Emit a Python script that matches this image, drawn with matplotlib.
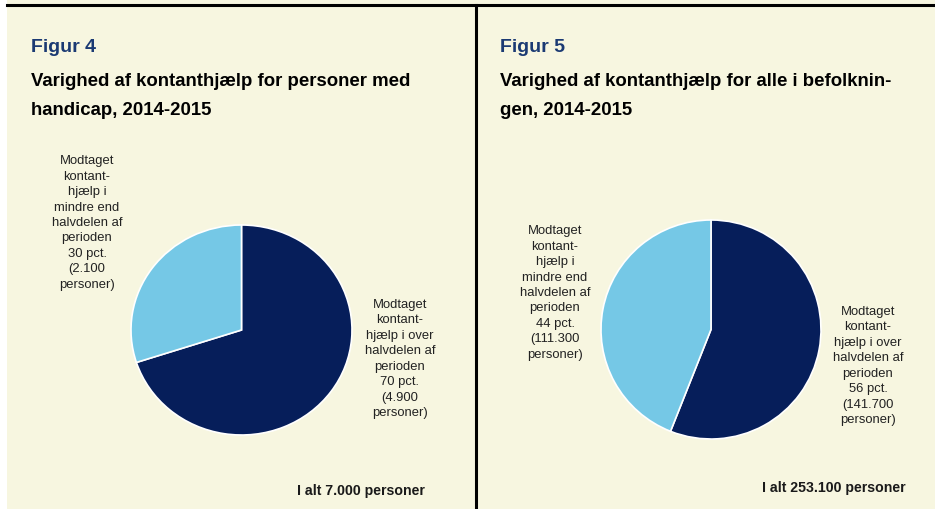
import matplotlib

matplotlib.use("Agg")
import matplotlib.pyplot as plt  # noqa: E402
from matplotlib.lines import Line2D  # noqa: E402

plt.rcParams["font.family"] = ["Liberation Sans", "DejaVu Sans"]

W, H = 935, 510
BG = "#f7f6e0"
DARK = "#061e5a"
LIGHT = "#75c8e6"
FIG_BLUE = "#1b3a73"

# data
fig_nums = ["Figur 4", "Figur 5"]
titles = [
    "Varighed af kontanthjælp for personer med\nhandicap, 2014-2015",
    "Varighed af kontanthjælp for alle i befolknin-\ngen, 2014-2015",
]
shares_over = [70, 56]       # pct. over half the period (dark)
shares_under = [30, 44]      # pct. under half the period (light)
persons_over = ["4.900", "141.700"]
persons_under = ["2.100", "111.300"]
totals = ["7.000", "253.100"]


def px(x, y):
    """pixel (from top-left) -> figure fraction"""
    return x / W, 1 - y / H


fig = plt.figure(figsize=(W / 100, H / 100), dpi=100)
fig.patch.set_facecolor(BG)

# white margin on the left + frame lines
fig.patches.append(plt.Rectangle((0, 0), 7 / W, 1, transform=fig.transFigure,
                                 facecolor="white", edgecolor="none"))
fig.add_artist(Line2D([7 / W, 1], [1 - 6 / H] * 2, color="black", lw=2.2))
fig.add_artist(Line2D([476 / W] * 2, [0, 1 - 6 / H], color="black", lw=2.2))

# pie boxes in pixels: left, top, right, bottom
panels = [
    dict(x0=31, box=(131, 226, 352, 436), lab_u=(87, 223), lab_o=(400, 359),
         tot=(425, 491)),
    dict(x0=500, box=(601, 221, 821, 440), lab_u=(555, 293), lab_o=(868, 366),
         tot=(906, 488)),
]

for i, p in enumerate(panels):
    fig.text(*px(p["x0"], 47), fig_nums[i], color=FIG_BLUE, fontsize=14,
             fontweight="bold", va="center", ha="left")
    fig.text(*px(p["x0"], 96), titles[i], color="black", fontsize=13.4,
             fontweight="bold", va="center", ha="left", linespacing=1.9)

    l, t, r, b = p["box"]
    left, bottom = px(l, b)
    ax = fig.add_axes([left, bottom, (r - l) / W, (b - t) / H])
    ax.pie([shares_over[i], shares_under[i]], colors=[DARK, LIGHT],
           startangle=90, counterclock=False,
           wedgeprops=dict(edgecolor="white", linewidth=1.2))
    ax.set_xlim(-1, 1)
    ax.set_ylim(-1, 1)
    ax.set_aspect("auto")
    ax.set_axis_off()

    under = (f"Modtaget\nkontant-\nhjælp i\nmindre end\nhalvdelen af\nperioden\n"
             f"{shares_under[i]} pct.\n({persons_under[i]}\npersoner)")
    over = (f"Modtaget\nkontant-\nhjælp i over\nhalvdelen af\nperioden\n"
            f"{shares_over[i]} pct.\n({persons_over[i]}\npersoner)")
    fig.text(*px(*p["lab_u"]), under, fontsize=9.4, color="#222222",
             ha="center", va="center", multialignment="center", linespacing=1.38)
    fig.text(*px(*p["lab_o"]), over, fontsize=9.4, color="#222222",
             ha="center", va="center", multialignment="center", linespacing=1.38)

    fig.text(*px(*p["tot"]), f"I alt {totals[i]} personer", fontsize=10.2,
             fontweight="bold", color="#1a1a1a", ha="right", va="center")

fig.savefig("out.png", dpi=100, facecolor=BG)
